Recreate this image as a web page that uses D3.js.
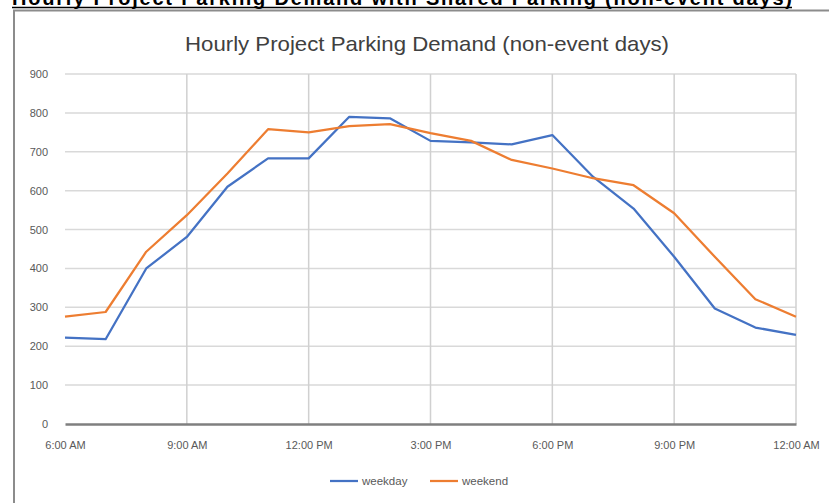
<!DOCTYPE html>
<html>
<head>
<meta charset="utf-8">
<script src="https://cdn.jsdelivr.net/npm/d3@7"></script>
<style>
  body { margin: 0; background: #fff; }
  svg { display: block; }
</style>
</head>
<body>
<div id="chart-area"></div>
<script>
// hours since 6:00 AM, one point per hour
var hours = d3.range(0, 19);
var weekday = [222, 218, 400, 481, 610, 683, 683, 790, 786, 728, 724, 719, 743, 636, 554, 430, 297, 248, 229];
var weekend = [276, 288, 443, 537, 644, 758, 750, 766, 771, 748, 728, 679, 657, 632, 614, 542, 430, 321, 276];
var tickHours = [0, 3, 6, 9, 12, 15, 18];
var tickLabels = ["6:00 AM", "9:00 AM", "12:00 PM", "3:00 PM", "6:00 PM", "9:00 PM", "12:00 AM"];
var yTicks = [0, 100, 200, 300, 400, 500, 600, 700, 800, 900];
var seriesNames = ["weekday", "weekend"];

var W = 829, H = 503;
var margin = { left: 65, right: 33, top: 74, bottom: 79 };
var width = W - margin.left - margin.right,
    height = H - margin.top - margin.bottom;

var colors = { "weekday": "#4472c4", "weekend": "#ed7d31" };
var font = "Liberation Sans, Arial, sans-serif";

var svg = d3.select("#chart-area")
    .append("svg")
    .attr("width", W)
    .attr("height", H);

// outer heading, only its lower part shows at the top edge
svg.append("text")
    .attr("x", 402)
    .attr("y", 5)
    .attr("text-anchor", "middle")
    .attr("font-family", font)
    .attr("font-weight", "bold")
    .attr("font-size", "20px")
    .attr("textLength", 780)
    .attr("fill", "#000")
    .text("Hourly Project Parking Demand with Shared Parking (non-event days)");
svg.append("line")
    .attr("x1", 12).attr("x2", 792)
    .attr("y1", 7.5).attr("y2", 7.5)
    .attr("stroke", "#000").attr("stroke-width", 1.5);

// chart frame
svg.append("path")
    .attr("d", "M14," + H + "V10.5H" + W)
    .attr("fill", "none")
    .attr("stroke", "#8c8c8c")
    .attr("stroke-width", 2);

// chart title
svg.append("text")
    .attr("x", 427)
    .attr("y", 51)
    .attr("text-anchor", "middle")
    .attr("font-family", font)
    .attr("font-size", "21px")
    .attr("textLength", 484)
    .attr("lengthAdjust", "spacingAndGlyphs")
    .attr("fill", "#404040")
    .text("Hourly Project Parking Demand (non-event days)");

var g = svg.append("g")
    .attr("transform", "translate(" + margin.left + "," + margin.top + ")");

// Scales
var x = d3.scaleLinear().domain([0, 18]).range([0, width]);
var y = d3.scaleLinear().domain([0, 900]).range([height, 0]);

// Grid
g.append("g")
    .selectAll("line")
    .data(yTicks.slice(1))
    .enter().append("line")
    .attr("x1", 0).attr("x2", width)
    .attr("y1", function(d){ return y(d); })
    .attr("y2", function(d){ return y(d); })
    .attr("stroke", "#d9d9d9")
    .attr("stroke-width", 1.5);

g.append("g")
    .selectAll("line")
    .data(tickHours.slice(1))
    .enter().append("line")
    .attr("x1", function(d){ return x(d); })
    .attr("x2", function(d){ return x(d); })
    .attr("y1", 0).attr("y2", height)
    .attr("stroke", "#d0d0d0")
    .attr("stroke-width", 1.5);

// Y Axis
var yAxisCall = d3.axisLeft(y)
    .tickValues(yTicks)
    .tickSize(0)
    .tickPadding(17);
var yAxis = g.append("g").attr("class", "y axis").call(yAxisCall);
yAxis.select(".domain").remove();
yAxis.selectAll("text")
    .attr("font-family", font)
    .attr("font-size", "11px")
    .attr("fill", "#595959");

// X Axis
var xAxisCall = d3.axisBottom(x)
    .tickValues(tickHours)
    .tickFormat(function(d, i){ return tickLabels[i]; })
    .tickSize(0)
    .tickPadding(17);
var xAxis = g.append("g")
    .attr("class", "x axis")
    .attr("transform", "translate(0," + height + ")")
    .call(xAxisCall);
xAxis.select(".domain")
    .attr("stroke", "#7f7f7f")
    .attr("stroke-width", 2.5);
xAxis.selectAll("text")
    .attr("font-family", font)
    .attr("font-size", "11px")
    .attr("fill", "#595959");

// Lines
var line = d3.line()
    .x(function(d, i){ return x(hours[i]); })
    .y(function(d){ return y(d); });

var series = [
    { name: "weekday", values: weekday },
    { name: "weekend", values: weekend }
];

g.selectAll("path.series")
    .data(series)
    .enter().append("path")
    .attr("class", "series")
    .attr("fill", "none")
    .attr("stroke", function(d){ return colors[d.name]; })
    .attr("stroke-width", 2.25)
    .attr("stroke-linejoin", "round")
    .attr("d", function(d){ return line(d.values); });

// Legend
var legend = svg.append("g")
    .attr("transform", "translate(330,481)");
var item = legend.selectAll("g")
    .data(seriesNames)
    .enter().append("g")
    .attr("transform", function(d, i){ return "translate(" + (i * 100) + ",0)"; });
item.append("line")
    .attr("x1", 0).attr("x2", 28)
    .attr("stroke", function(d){ return colors[d]; })
    .attr("stroke-width", 2.25);
item.append("text")
    .attr("x", 32)
    .attr("y", 4)
    .attr("font-family", font)
    .attr("font-size", "11.5px")
    .attr("fill", "#595959")
    .text(function(d){ return d; });
</script>
</body>
</html>
